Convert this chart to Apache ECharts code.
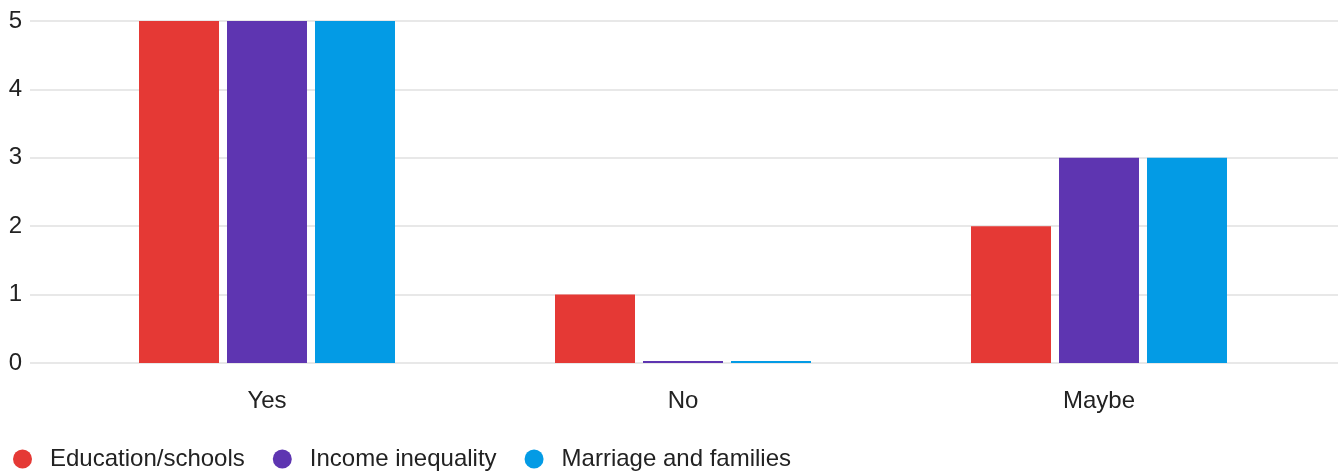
<!DOCTYPE html>
<html><head><meta charset="utf-8">
<script src="https://cdn.jsdelivr.net/npm/echarts@6/dist/echarts.min.js"></script>
<style>html,body{margin:0;padding:0;background:#fff}#c{width:1338px;height:472px}</style>
</head><body><div id="c"></div>
<script>
const categories = ['Yes', 'No', 'Maybe'];
const seriesNames = ['Education/schools', 'Income inequality', 'Marriage and families'];
const education = [5, 1, 2];
const income = [5, 0, 3];
const marriage = [5, 0, 3];
const yTicks = [0, 1, 2, 3, 4, 5];
const colors = ['#e53935', '#5e35b1', '#039be5'];
const font = 'Liberation Sans, Arial, sans-serif';

const chart = echarts.init(document.getElementById('c'));
const values = [education, income, marriage];
chart.setOption({
  animation: false,
  color: colors,
  textStyle: { fontFamily: font },
  grid: [
    { left: 30, right: 0, top: 21, bottom: 109, containLabel: false },
    { left: 59, right: 31, top: 21, bottom: 109, containLabel: false }
  ],
  legend: {
    left: 8, top: 442, icon: 'circle', itemWidth: 45, itemHeight: 19, itemGap: 28,
    textStyle: { fontFamily: font, fontSize: 24, color: '#222' },
    data: seriesNames
  },
  xAxis: [
    { gridIndex: 0, type: 'value', show: false, min: 0, max: 1 },
    { gridIndex: 1, type: 'category', data: categories,
      axisLine: { show: false }, axisTick: { show: false },
      axisLabel: { fontSize: 24, color: '#222', margin: 26, fontFamily: font } }
  ],
  yAxis: [
    { gridIndex: 0, type: 'value', min: 0, max: 5, interval: 1,
      axisLine: { show: false }, axisTick: { show: false },
      axisLabel: { fontSize: 24, color: '#222', margin: 8, fontFamily: font,
        formatter: v => yTicks.includes(v) ? String(v) : '' },
      splitLine: { lineStyle: { color: '#e8e8e8', width: 2 } } },
    { gridIndex: 1, type: 'value', min: 0, max: 5, interval: 1, show: false,
      splitLine: { show: false } }
  ],
  series: seriesNames.map((n, i) => ({
    name: n, type: 'bar', xAxisIndex: 1, yAxisIndex: 1,
    data: values[i], barWidth: 80, barGap: '10%', barMinHeight: 2,
    itemStyle: { color: colors[i] }
  }))
});
</script></body></html>
